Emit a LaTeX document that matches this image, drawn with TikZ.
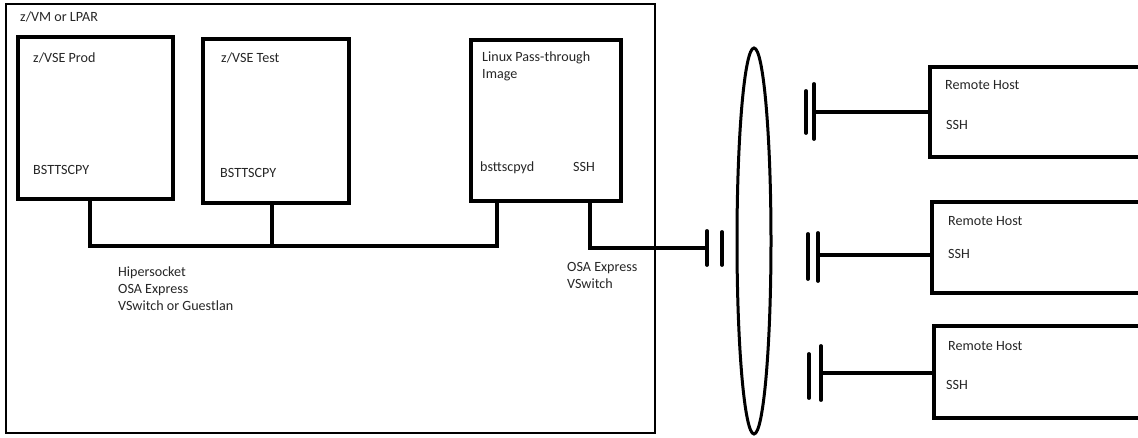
\documentclass[tikz,border=0pt]{standalone}
\usepackage{fontspec}
\setmainfont{Carlito}
\usetikzlibrary{shapes.geometric}
\begin{document}
\begin{tikzpicture}[x=1pt,y=-1pt,
  lbl/.style={anchor=base west,inner sep=0,text=black!85,font=\fontsize{14.1}{17}\selectfont},
  thinbox/.style={draw,line width=2pt,inner sep=0},
  thickbox/.style={draw,line width=3.8pt,inner sep=0},
  conn/.style={line width=3.8pt},
  bar/.style={line width=3.8pt,line cap=round}]
\useasboundingbox (0,0) rectangle (1138,438);
% outer frame
\node[thinbox,minimum width=649,minimum height=429] (frame) at (330.5,218.5) {};
\node[lbl] (frameL) at (20,21.5) {z/VM or LPAR};
% inner boxes
\node[thickbox,minimum width=155,minimum height=162] (prod) at (95.5,118) {};
\node[thickbox,minimum width=146,minimum height=164] (test) at (276,121) {};
\node[thickbox,minimum width=150,minimum height=161] (linux) at (546,120.5) {};
\node[lbl] (prodT) at (33,62.5) {z/VSE Prod};
\node[lbl] (prodB) at (33,175) {BSTTSCPY};
\node[lbl] (testT) at (221,62.5) {z/VSE Test};
\node[lbl] (testB) at (220,177.5) {BSTTSCPY};
\node[lbl] (linT) at (482,62) {Linux Pass-through};
\node[lbl] (linT2) at (482,79) {Image};
\node[lbl] (linB) at (480,172) {bsttscpyd};
\node[lbl] (linS) at (573,172) {SSH};
% internal bus
\coordinate (busL) at (90,246);
\coordinate (busT) at (272,246);
\coordinate (busR) at (497,246);
\draw[conn] (prod.south -| busL) -- (busL) -- (busR) -- (linux.south -| busR);
\draw[conn] (test.south -| busT) -- (busT);
\node[lbl] (hip1) at (118,277) {Hipersocket};
\node[lbl] (hip2) at (118,294) {OSA Express};
\node[lbl] (hip3) at (118,311) {VSwitch or Guestlan};
% external link
\coordinate (sshD) at (590,248);
\coordinate (sshE) at (707,248);
\draw[conn] (linux.south -| sshD) -- (sshD) -- (sshE);
\draw[bar] (707,231) -- (707,265);
\draw[bar] (722,232) -- (722,265);
\node[lbl] (osa1) at (567,272) {OSA Express};
\node[lbl] (osa2) at (567,289) {VSwitch};
% network
\node[draw,ellipse,line width=3pt,inner sep=0,minimum width=34,minimum height=386] (net) at (754,241) {};
% remote hosts
\node[thickbox,minimum width=216,minimum height=90] (rh1) at (1038,112) {};
\node[thickbox,minimum width=214,minimum height=91] (rh2) at (1039,247.5) {};
\node[thickbox,minimum width=212,minimum height=92] (rh3) at (1040,372) {};
\node[lbl] (rh1a) at (945,90) {Remote Host};
\node[lbl] (rh1b) at (946,130) {SSH};
\node[lbl] (rh2a) at (948,226) {Remote Host};
\node[lbl] (rh2b) at (948,259) {SSH};
\node[lbl] (rh3a) at (948,351) {Remote Host};
\node[lbl] (rh3b) at (946,389) {SSH};
\coordinate (c1) at (814,112);
\coordinate (c2) at (818,255);
\coordinate (c3) at (821,373);
\draw[conn] (c1) -- (c1 -| rh1.west);
\draw[conn] (c2) -- (c2 -| rh2.west);
\draw[conn] (c3) -- (c3 -| rh3.west);
\draw[bar] (806,91) -- (806,133);
\draw[bar] (814,84) -- (814,139);
\draw[bar] (808,234) -- (808,279);
\draw[bar] (818,233) -- (818,281);
\draw[bar] (809,354) -- (809,398);
\draw[bar] (821,346) -- (821,400);
\end{tikzpicture}
\end{document}
